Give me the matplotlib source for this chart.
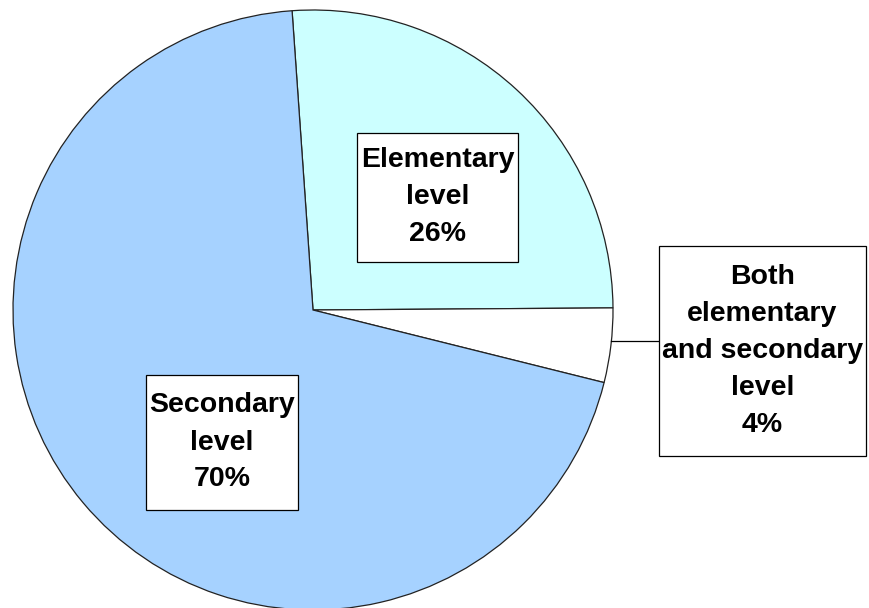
import matplotlib.pyplot as plt
from matplotlib.patches import Rectangle
import numpy as np

# data
labels = ['Elementary\nlevel', 'Both\nelementary\nand secondary\nlevel', 'Secondary\nlevel']
shares = [26, 4, 70]
colors = ['#CCFFFF', '#FFFFFF', '#A6D2FF']

plt.rcParams['font.family'] = ['Liberation Sans', 'DejaVu Sans']

fig = plt.figure(figsize=(8.7, 6.08), dpi=100)
ax = fig.add_axes([0, 0, 1, 1])

cx, cy, r = 313, 298, 300
wedges, _ = ax.pie(shares, colors=colors, startangle=94, counterclock=False,
                   center=(cx, cy), radius=r, frame=True,
                   wedgeprops=dict(edgecolor='#222222', linewidth=0.9))

# label boxes (x0, y0, w, h) in pixel-like coords, y upward
boxes = [(357, 346, 161, 129), (659, 152, 207, 210), (146, 98, 152, 135)]
for lab, val, (x0, y0, w, h) in zip(labels, shares, boxes):
    ax.add_patch(Rectangle((x0, y0), w, h, facecolor='white', edgecolor='black',
                           linewidth=0.9, zorder=5))
    ax.text(x0 + w / 2, y0 + h / 2, '%s\n%d%%' % (lab, val), ha='center', va='center',
            fontsize=20.5, fontweight='bold', linespacing=1.55, zorder=6)

# leader line for the small slice
w = wedges[1]
ang = np.deg2rad(-6)
px, py = cx + r * np.cos(ang), cy + r * np.sin(ang)
ax.plot([px, 659], [py, py], color='black', linewidth=0.9, zorder=4)

ax.set_xlim(0, 870)
ax.set_ylim(0, 608)
ax.set_aspect('equal')
ax.axis('off')

fig.savefig('out.png', dpi=100)
